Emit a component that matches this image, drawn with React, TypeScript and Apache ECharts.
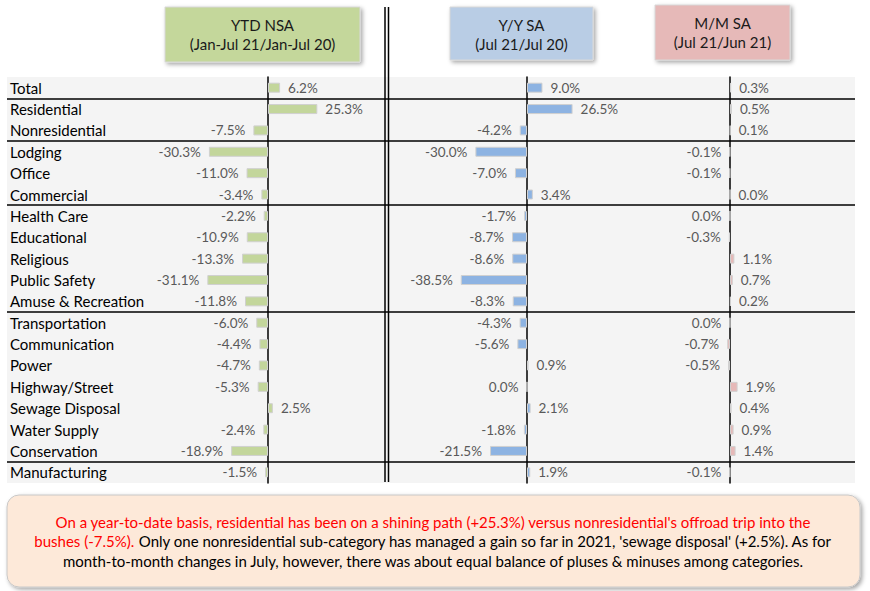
import React, { useEffect, useRef } from "react";
import * as echarts from "echarts";

const categories = [
  "Total", "Residential", "Nonresidential", "Lodging", "Office", "Commercial",
  "Health Care", "Educational", "Religious", "Public Safety", "Amuse & Recreation",
  "Transportation", "Communication", "Power", "Highway/Street", "Sewage Disposal",
  "Water Supply", "Conservation", "Manufacturing",
];
const ytdNsa = [6.2, 25.3, -7.5, -30.3, -11.0, -3.4, -2.2, -10.9, -13.3, -31.1, -11.8, -6.0, -4.4, -4.7, -5.3, 2.5, -2.4, -18.9, -1.5];
const yoySa = [9.0, 26.5, -4.2, -30.0, -7.0, 3.4, -1.7, -8.7, -8.6, -38.5, -8.3, -4.3, -5.6, 0.9, -0.03, 2.1, -1.8, -21.5, 1.9];
const momSa = [0.3, 0.5, 0.1, -0.1, -0.1, 0.02, -0.02, -0.3, 1.1, 0.7, 0.2, -0.03, -0.7, -0.5, 1.9, 0.4, 0.9, 1.4, -0.1];
const groupBreaks = [1, 3, 6, 11, 18];
const headers = [
  ["YTD NSA", "(Jan-Jul 21/Jan-Jul 20)"],
  ["Y/Y SA", "(Jul 21/Jul 20)"],
  ["M/M SA", "(Jul 21/Jun 21)"],
];
const noteRed1 = "On a year-to-date basis, residential has been on a shining path (+25.3%) versus nonresidential's offroad trip into the";
const noteRed2 = "bushes (-7.5%).";
const noteBlack2 = " Only one nonresidential sub-category has managed a gain so far in 2021, 'sewage disposal' (+2.5%). As for";
const noteBlack3 = "month-to-month changes in July, however, there was about equal balance of pluses & minuses among categories.";

const FONT = "Lato, 'Noto Sans', sans-serif";
const TOP = 77;
const HEIGHT = 406;

const fmt = (v: number) => (Math.abs(v) < 0.05 ? "0.0" : v.toFixed(1)) + "%";

function barSeries(values: number[], idx: number, color: string) {
  return {
    type: "bar",
    xAxisIndex: idx,
    yAxisIndex: idx,
    barWidth: 10,
    silent: true,
    data: values.map((v) => ({
      value: v,
      label: { position: v < 0 ? "left" : "right" },
    })),
    itemStyle: { color, borderColor: "#d0d0d0", borderWidth: 1 },
    label: {
      show: true,
      distance: 8,
      color: "#595959",
      fontSize: 13.5,
      fontFamily: FONT,
      formatter: (p: any) => fmt(p.value),
    },
  };
}

function header(x: number, w: number, y: number, h: number, fill: string, lines: string[]) {
  return {
    type: "group",
    children: [
      {
        type: "rect",
        shape: { x, y, width: w, height: h },
        style: {
          fill,
          stroke: "#d8d8d8",
          lineWidth: 1,
          shadowBlur: 4,
          shadowOffsetX: 2,
          shadowOffsetY: 2,
          shadowColor: "rgba(0,0,0,0.35)",
        },
      },
      {
        type: "text",
        x: x + w / 2,
        y: y + 18,
        style: { text: lines[0], textAlign: "center", textVerticalAlign: "middle", font: `15px ${FONT}`, fill: "#1a1a1a" },
      },
      {
        type: "text",
        x: x + w / 2,
        y: y + 37,
        style: { text: lines[1], textAlign: "center", textVerticalAlign: "middle", font: `15px ${FONT}`, fill: "#1a1a1a" },
      },
    ],
  };
}

export default function App() {
  const ref = useRef<HTMLDivElement>(null);
  useEffect(() => {
    const chart = echarts.init(ref.current!, null, { renderer: "svg" });
    const grids = [
      { left: 141.25, width: 243.75, min: -65, max: 60 },
      { left: 406.6, width: 189.2, min: -70, max: 40 },
      { left: 650, width: 180, min: -20, max: 25 },
    ];
    const hiddenX = (min: number, max: number, gridIndex: number) => ({
      type: "value",
      gridIndex,
      min,
      max,
      show: false,
      splitLine: { show: false },
    });
    const barY = (gridIndex: number) => ({
      type: "category",
      gridIndex,
      inverse: true,
      data: categories,
      axisLabel: { show: false },
      axisTick: { show: false },
      axisLine: { show: true, onZero: true, lineStyle: { color: "#000", width: 1.5 } },
    });
    chart.setOption({
      animation: false,
      backgroundColor: "#ffffff",
      grid: [
        ...grids.map((g) => ({ left: g.left, width: g.width, top: TOP, height: HEIGHT })),
        { left: 7, width: 848, top: TOP, height: HEIGHT, show: true, backgroundColor: "#f4f4f4", borderWidth: 0, z: -1 },
      ],
      xAxis: [
        ...grids.map((g, i) => hiddenX(g.min, g.max, i)),
        hiddenX(0, 1, 3),
      ],
      yAxis: [
        barY(0),
        barY(1),
        barY(2),
        {
          type: "category",
          gridIndex: 3,
          inverse: true,
          data: categories,
          axisLine: { show: false },
          axisTick: { show: false },
          axisLabel: { inside: true, margin: 3, color: "#000", fontSize: 15, fontFamily: FONT },
        },
        { type: "value", gridIndex: 3, min: 0, max: categories.length, inverse: true, show: false, splitLine: { show: false } },
      ],
      series: [
        barSeries(ytdNsa, 0, "#c3d69b"),
        barSeries(yoySa, 1, "#8db3e2"),
        barSeries(momSa, 2, "#e6b9b8"),
        {
          type: "line",
          xAxisIndex: 3,
          yAxisIndex: 4,
          data: [],
          silent: true,
          markLine: {
            silent: true,
            symbol: ["none", "none"],
            label: { show: false },
            lineStyle: { color: "#000", width: 1.5, type: "solid" },
            data: groupBreaks.map((b) => ({ yAxis: b })),
          },
        },
      ],
      graphic: [
        { type: "line", shape: { x1: 385, y1: 7, x2: 385, y2: 482 }, style: { stroke: "#000", lineWidth: 1.5 } },
        { type: "line", shape: { x1: 388.5, y1: 7, x2: 388.5, y2: 482 }, style: { stroke: "#000", lineWidth: 1.5 } },
        header(165, 195, 7, 55, "#c4d79b", headers[0]),
        header(450, 143, 7, 53, "#b9cde5", headers[1]),
        header(655, 135, 5, 55, "#e6b9b8", headers[2]),
        {
          type: "rect",
          shape: { x: 7, y: 495, width: 853, height: 92, r: 12 },
          style: {
            fill: "#fde9d9",
            stroke: "#c8c8c8",
            lineWidth: 1,
            shadowBlur: 4,
            shadowOffsetX: 2,
            shadowOffsetY: 2,
            shadowColor: "rgba(0,0,0,0.35)",
          },
        },
        {
          type: "text",
          x: 433,
          y: 541,
          style: {
            text: `{r|${noteRed1}}\n{r|${noteRed2}}{b|${noteBlack2}}\n{b|${noteBlack3}}`,
            textAlign: "center",
            textVerticalAlign: "middle",
            rich: {
              r: { fill: "#ff0000", font: `15px ${FONT}`, lineHeight: 19.5 },
              b: { fill: "#000000", font: `15px ${FONT}`, lineHeight: 19.5 },
            },
          },
        },
      ],
    });
    return () => chart.dispose();
  }, []);
  return <div ref={ref} style={{ position: "fixed", left: 0, top: 0, width: 870, height: 591 }} />;
}
